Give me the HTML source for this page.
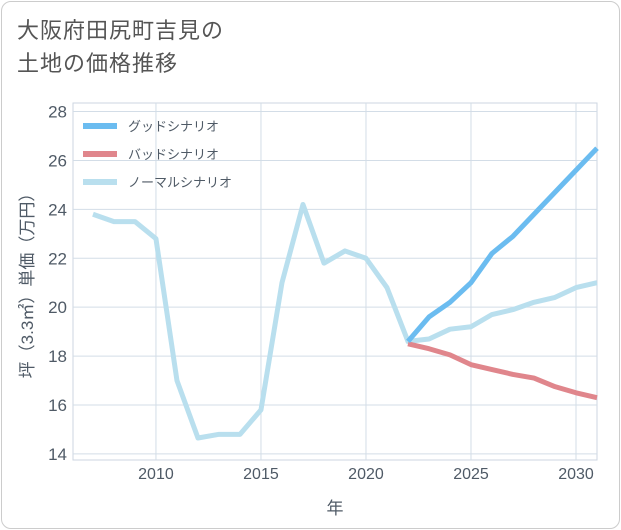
<!DOCTYPE html>
<html><head><meta charset="utf-8">
<style>
body{margin:0;background:#fff;font-family:"Liberation Sans","Noto Sans CJK JP",sans-serif;}
#card{position:absolute;left:1px;top:1px;width:617px;height:526px;border:1px solid #ccc;border-radius:10px;background:#fff;}
#title{position:absolute;left:17px;top:14px;font-size:22px;line-height:33px;color:#555;letter-spacing:1px;}
svg{position:absolute;left:0;top:0;}
</style></head><body>
<div id="card"></div>
<div id="title">大阪府田尻町吉見の<br>土地の価格推移</div>
<svg id="chart" width="621" height="530"></svg>
<script>
const normalYears=[2007,2008,2009,2010,2011,2012,2013,2014,2015,2016,2017,2018,2019,2020,2021,2022,2023,2024,2025,2026,2027,2028,2029,2030,2031];
const normalValues=[23.8,23.5,23.5,22.8,17.0,14.65,14.8,14.8,15.8,21.0,24.2,21.8,22.3,22.0,20.8,18.6,18.7,19.1,19.2,19.7,19.9,20.2,20.4,20.8,21.0];
const forecastYears=[2022,2023,2024,2025,2026,2027,2028,2029,2030,2031];
const goodValues=[18.6,19.6,20.2,21.0,22.2,22.9,23.8,24.7,25.6,26.5];
const badValues=[18.5,18.3,18.05,17.65,17.45,17.25,17.1,16.75,16.5,16.3];
const xTicks=[2010,2015,2020,2025,2030];
const yTicks=[14,16,18,20,22,24,26,28];
const legendLabels=["グッドシナリオ","バッドシナリオ","ノーマルシナリオ"];
const colors=["#6bbcf0","#e0868c","#b9dfee"];

const L=73,R=597,T=103,B=460;
const xMin=2006.05,xMax=2031,yMin=13.75,yMax=28.35;
const X=v=>L+(v-xMin)/(xMax-xMin)*(R-L);
const Y=v=>B-(v-yMin)/(yMax-yMin)*(B-T);
const svg=document.getElementById('chart');
const NS='http://www.w3.org/2000/svg';
function mk(tag,attrs){const e=document.createElementNS(NS,tag);for(const k in attrs)e.setAttribute(k,attrs[k]);svg.appendChild(e);return e;}

const bg=mk('rect',{x:L,y:T,width:R-L,height:B-T,fill:'#fff',stroke:'#ccd6e0'});



yTicks.forEach(t=>{
  const g=mk('line',{x1:L,x2:R,y1:Y(t),y2:Y(t),stroke:'#d3dde7','stroke-width':1});
  
  
  const tx=mk('text',{x:L-6,y:Y(t)+6,'text-anchor':'end','font-size':17,fill:'#4f5a66'});
  tx.textContent=t;
  
  
});
xTicks.forEach(t=>{
  const g=mk('line',{x1:X(t),x2:X(t),y1:T,y2:B,stroke:'#d3dde7','stroke-width':1});
  
  
  const tx=mk('text',{x:X(t),y:B+19,'text-anchor':'middle','font-size':16,fill:'#4f5a66'});
  tx.textContent=t;
  
  
});

function line(xs,ys,color,name){
  const p=mk('polyline',{points:xs.map((x,i)=>X(x)+','+Y(ys[i])).join(' '),fill:'none',stroke:color,'stroke-width':5,'stroke-linejoin':'round'});
  
  
}
line(normalYears,normalValues,colors[2],'normal-scenario-line');
line(forecastYears,badValues,colors[1],'bad-scenario-line');
line(forecastYears,goodValues,colors[0],'good-scenario-line');

legendLabels.forEach((lb,i)=>{
  const y=126+i*28;
  const l=mk('line',{x1:83,x2:117,y1:y,y2:y,stroke:colors[i],'stroke-width':6});
  
  
  const t=mk('text',{x:128,y:y+5,'font-size':13,fill:'#4f5a66'});
  t.textContent=lb;
  
  
});

const xt=mk('text',{x:(L+R)/2,y:514,'text-anchor':'middle','font-size':17,fill:'#4f5a66'});
xt.textContent='年';


const yt=mk('text',{x:0,y:0,'text-anchor':'middle','font-size':17,fill:'#4f5a66',transform:'translate(33,'+((T+B)/2)+') rotate(-90)'});
yt.textContent='坪（3.3㎡）単価（万円）';


</script>
</body></html>
